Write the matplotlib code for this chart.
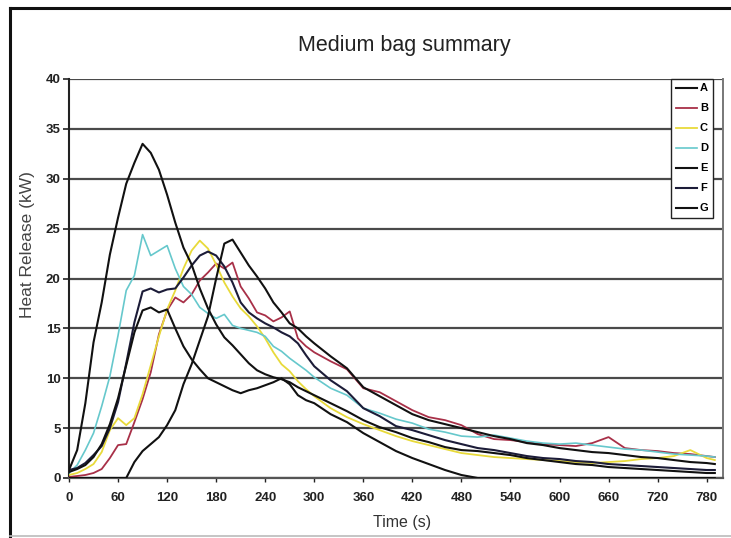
import matplotlib
matplotlib.use('Agg')
import matplotlib.pyplot as plt
from matplotlib.lines import Line2D

plt.rcParams['font.family'] = ['Liberation Sans', 'DejaVu Sans']

# ---------------- data ----------------
time_s = [0, 10, 20, 30, 40, 50, 60, 70, 80, 90,
          100, 110, 120, 130, 140, 150, 160, 170, 180, 190,
          200, 210, 220, 230, 240, 250, 260, 270, 280, 290,
          300,
          320, 340, 360, 380, 400, 420, 440, 460, 480, 500,
          520, 540, 560, 580, 600, 620, 640, 660, 680, 700,
          720, 740, 760, 780, 790]

series_labels = ['A', 'B', 'C', 'D', 'E', 'F', 'G']

A = [0.6, 0.9, 1.3, 2.1, 3.4, 5.4, 8.0, 11.3, 14.6, 16.8,
     17.1, 16.6, 16.9, 15.0, 13.2, 11.9, 10.9, 10.0, 9.6, 9.2,
     8.8, 8.5, 8.8, 9.0, 9.3, 9.6, 10.0, 9.4, 8.3, 7.8,
     7.5,
     6.4, 5.6, 4.5, 3.6, 2.7, 2.0, 1.4, 0.8, 0.3, 0.0,
     0.0, 0.0, 0.0, 0.0, 0.0, 0.0, 0.0, 0.0, 0.0, 0.0,
     0.0, 0.0, 0.0, 0.0, 0.0]

B = [0.1, 0.2, 0.3, 0.5, 0.9, 2.0, 3.3, 3.4, 5.6, 7.9,
     10.6, 14.4, 16.8, 18.1, 17.6, 18.4, 19.8, 20.6, 21.5, 21.0,
     21.6, 19.2, 18.0, 16.6, 16.3, 15.7, 16.1, 16.7, 14.0, 13.2,
     12.6,
     11.7, 10.9, 9.0, 8.6, 7.7, 6.8, 6.1, 5.8, 5.3, 4.4,
     3.9, 3.8, 3.6, 3.4, 3.3, 3.2, 3.5, 4.1, 3.0, 2.8,
     2.7, 2.5, 2.4, 2.2, 2.1]

C = [0.3, 0.5, 0.9, 1.4, 2.6, 4.8, 6.0, 5.3, 6.0, 8.4,
     11.3, 14.2, 16.9, 18.8, 21.0, 22.8, 23.8, 23.0, 21.4, 19.6,
     18.2, 17.0, 16.2, 15.2, 14.0, 12.6, 11.4, 10.7, 9.7, 8.9,
     8.2,
     7.0, 6.1, 5.4, 4.8, 4.2, 3.7, 3.3, 2.9, 2.5, 2.3,
     2.1, 2.0, 1.9, 1.8, 1.7, 1.6, 1.5, 1.6, 1.7, 1.9,
     2.0, 2.2, 2.8, 2.0, 1.8]

D = [0.5, 1.3, 2.8, 4.5, 7.2, 10.2, 14.3, 18.8, 20.3, 24.4,
     22.3, 22.8, 23.3, 21.0, 19.2, 18.4, 17.1, 16.5, 16.0, 16.4,
     15.3, 15.0, 14.8, 14.6, 14.2, 13.2, 12.7, 12.0, 11.4, 10.8,
     10.1,
     9.0, 8.3, 7.0, 6.5, 5.9, 5.5, 4.9, 4.6, 4.2, 4.1,
     4.3, 4.0, 3.7, 3.5, 3.4, 3.5, 3.3, 3.1, 2.9, 2.8,
     2.6, 2.4, 2.3, 2.2, 2.1]

E = [0.0, 0.0, 0.0, 0.0, 0.0, 0.0, 0.0, 0.0, 1.6, 2.7,
     3.4, 4.1, 5.3, 6.8, 9.4, 11.4, 13.8, 16.2, 20.0, 23.5,
     23.9, 22.6, 21.3, 20.2, 19.0, 17.6, 16.6, 15.5, 15.0, 14.2,
     13.5,
     12.2, 11.0, 9.1, 8.2, 7.3, 6.4, 5.8, 5.4, 5.0, 4.6,
     4.2, 3.9, 3.5, 3.3, 3.0, 2.8, 2.6, 2.5, 2.3, 2.1,
     2.0, 1.8, 1.6, 1.5, 1.4]

F = [0.8, 1.0, 1.5, 2.3, 3.2, 5.0, 7.6, 11.5, 15.6, 18.7,
     19.0, 18.6, 18.9, 19.0, 20.1, 21.3, 22.3, 22.7, 22.3, 21.2,
     19.6, 17.6, 16.6, 16.0, 15.5, 15.1, 14.6, 14.2, 13.5, 12.3,
     11.2,
     9.8, 8.7, 7.0, 6.2, 5.2, 4.8, 4.3, 3.8, 3.4, 3.0,
     2.8, 2.5, 2.2, 2.0, 1.9, 1.7, 1.6, 1.4, 1.3, 1.2,
     1.1, 1.0, 0.9, 0.8, 0.8]

G = [0.8, 2.8, 7.5, 13.6, 17.6, 22.4, 26.1, 29.5, 31.6, 33.5,
     32.6, 30.9, 28.4, 25.6, 23.1, 21.4, 19.0, 17.0, 15.4, 14.1,
     13.3, 12.4, 11.5, 10.8, 10.4, 10.1, 9.9, 9.6, 9.1, 8.7,
     8.3,
     7.5, 6.7, 5.8, 5.1, 4.6, 4.0, 3.6, 3.1, 2.8, 2.7,
     2.5, 2.3, 2.0, 1.8, 1.6, 1.4, 1.3, 1.1, 1.0, 0.9,
     0.8, 0.7, 0.6, 0.5, 0.5]

x_ticks = [0, 60, 120, 180, 240, 300, 360, 420, 480, 540, 600, 660, 720, 780]
y_ticks = [0, 5, 10, 15, 20, 25, 30, 35, 40]

# ---------------- styling ----------------
colors = ['#111111', '#a83048', '#e8da3a', '#66c8cc', '#111111', '#1c1c38', '#111111']
widths = [1.5, 1.3, 1.3, 1.2, 1.5, 1.5, 1.5]
zorders = [5, 3, 3, 3, 5, 4, 5]

fig = plt.figure(figsize=(7.31, 5.38), dpi=100)
W, H = 731.0, 538.0
ax = fig.add_axes([69 / W, 60 / H, 654 / W, 399 / H])

values = [A, B, C, D, E, F, G]
for lab, vals, c, lw, z in zip(series_labels, values, colors, widths, zorders):
    ax.plot(time_s, vals, color=c, lw=lw, label=lab, zorder=z)

ax.set_xlim(0, 800)
ax.set_ylim(0, 40)
ax.set_xticks(x_ticks)
ax.set_yticks(y_ticks)
ax.yaxis.grid(True, color='#4a4a4a', lw=1.6, zorder=1)
ax.set_axisbelow(True)

ax.spines['top'].set_visible(False)
ax.spines['left'].set_color('#222222')
ax.spines['left'].set_linewidth(1.5)
ax.spines['bottom'].set_color('#555555')
ax.spines['bottom'].set_linewidth(1.6)
ax.spines['right'].set_color('#777777')
ax.spines['right'].set_linewidth(1.4)

ax.tick_params(axis='y', direction='out', length=4.5, width=1.2, pad=1.5,
               labelsize=9.5, colors='#222222')
ax.tick_params(axis='x', direction='out', length=3, width=1.0, pad=7,
               labelsize=9.5, colors='#222222')
for t in ax.get_xticklabels() + ax.get_yticklabels():
    t.set_fontweight('bold')

leg = ax.legend(loc='upper right', bbox_to_anchor=(0.985, 1.0), borderaxespad=0,
                prop={'weight': 'bold', 'size': 8},
                frameon=True, fancybox=False, framealpha=1, edgecolor='#222222',
                handlelength=1.9, handletextpad=0.3, borderpad=0.4,
                labelspacing=0.9)
leg.get_frame().set_linewidth(1.0)
leg.set_zorder(10)

fig.text(404 / W, 1 - 45 / H, 'Medium bag summary', ha='center', va='center',
         fontsize=15.5, color='#222222')
fig.text(402 / W, 1 - 522 / H, 'Time (s)', ha='center', va='center',
         fontsize=11.5, color='#333333')
fig.text(28 / W, 1 - 245 / H, 'Heat Release (kW)', ha='center', va='center',
         rotation=90, fontsize=12.5, color='#444444')

# outer frame of the scanned chart
fig.add_artist(Line2D([10 / W, 10 / W], [1 - 8 / H, 1 - 536 / H], color='#111111', lw=2.2))
fig.add_artist(Line2D([10 / W, 1.0], [1 - 8 / H, 1 - 8 / H], color='#111111', lw=2.2))
fig.add_artist(Line2D([10 / W, 1.0], [1 - 536 / H, 1 - 536 / H], color='#bbbbbb', lw=1.2))

fig.savefig('out.png', dpi=100)
